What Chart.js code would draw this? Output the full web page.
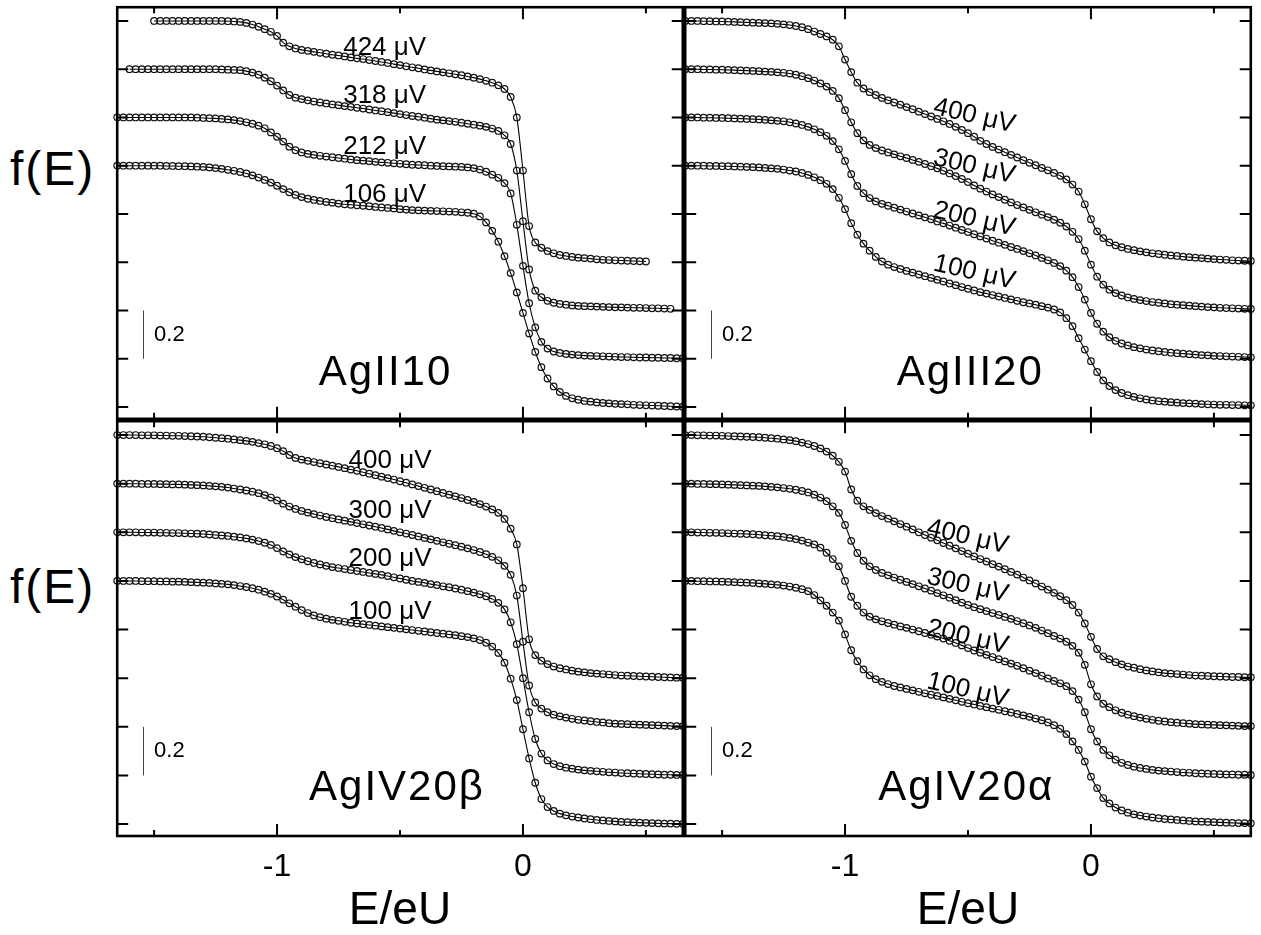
<!DOCTYPE html>
<html>
<head>
<meta charset="utf-8">
<script src="https://cdn.jsdelivr.net/npm/chart.js@4.4.1/dist/chart.umd.min.js"></script>
<style>
  html, body { margin: 0; padding: 0; background: #fff; }
  #wrap { position: relative; width: 1261px; height: 935px; background: #fff; overflow: hidden;
          font-family: 'Liberation Sans', Arial, sans-serif; }
  canvas { position: absolute; }
  .ylab { position: absolute; font-size: 48px; line-height: 48px; color: #000; letter-spacing: 2px; }
</style>
</head>
<body>
<div id="wrap">
  <canvas id="cTL" width="576" height="422" style="left:112px;top:2px"></canvas>
  <canvas id="cTR" width="576" height="422" style="left:680px;top:2px"></canvas>
  <canvas id="cBL" width="576" height="523" style="left:112px;top:416px"></canvas>
  <canvas id="cBR" width="576" height="523" style="left:680px;top:416px"></canvas>
  <div class="ylab" style="left:10px;top:145px">f(E)</div>
  <div class="ylab" style="left:10px;top:563px">f(E)</div>
</div>
<script>
// ---------------------------------------------------------------
// DATA  (E/eU grid and f(E), curves are stacked by 0.2)
// ---------------------------------------------------------------
const energy = [-1.65,-1.625,-1.6,-1.575,-1.55,-1.525,-1.5,-1.475,-1.45,-1.425,
  -1.4,-1.375,-1.35,-1.325,-1.3,-1.275,-1.25,-1.225,-1.2,-1.175,
  -1.15,-1.125,-1.1,-1.075,-1.05,-1.025,-1,-0.975,-0.95,-0.925,
  -0.9,-0.875,-0.85,-0.825,-0.8,-0.775,-0.75,-0.725,-0.7,-0.675,
  -0.65,-0.625,-0.6,-0.575,-0.55,-0.525,-0.5,-0.475,-0.45,-0.425,
  -0.4,-0.375,-0.35,-0.325,-0.3,-0.275,-0.25,-0.225,-0.2,-0.175,
  -0.15,-0.125,-0.1,-0.075,-0.05,-0.025,0,0.025,0.05,0.075,
  0.1,0.125,0.15,0.175,0.2,0.225,0.25,0.275,0.3,0.325,
  0.35,0.375,0.4,0.425,0.45,0.475,0.5,0.525,0.55,0.575,
  0.6,0.625,0.65];

const offsets = [0, 0.2, 0.4, 0.6];

// AgII10
const agII10_106 = [1,1,1,1,1,1,1,1,0.999,0.999,
  0.998,0.998,0.997,0.996,0.995,0.993,0.99,0.987,0.983,0.979,
  0.974,0.968,0.96,0.951,0.941,0.93,0.917,0.903,0.89,0.879,
  0.87,0.863,0.858,0.854,0.85,0.847,0.843,0.84,0.838,0.836,
  0.834,0.832,0.829,0.827,0.825,0.823,0.82,0.818,0.816,0.815,
  0.814,0.813,0.812,0.811,0.81,0.809,0.807,0.805,0.801,0.79,
  0.765,0.73,0.685,0.625,0.555,0.475,0.39,0.305,0.228,0.165,
  0.118,0.085,0.062,0.046,0.036,0.03,0.025,0.022,0.019,0.017,
  0.015,0.013,0.012,0.011,0.009,0.008,0.007,0.006,0.005,0.004,
  0.003,0.002,0.001];
const agII10_212 = [1,1,1,1,1,1,1,1,1,1,
  1,1,1,0.999,0.998,0.997,0.996,0.994,0.992,0.989,
  0.985,0.98,0.974,0.966,0.955,0.938,0.92,0.9,0.879,0.864,
  0.855,0.849,0.845,0.841,0.838,0.835,0.832,0.829,0.826,0.823,
  0.821,0.819,0.816,0.814,0.812,0.81,0.808,0.806,0.804,0.803,
  0.802,0.8,0.799,0.798,0.797,0.796,0.795,0.793,0.79,0.784,
  0.775,0.763,0.75,0.728,0.685,0.555,0.385,0.23,0.13,0.07,
  0.042,0.03,0.024,0.02,0.017,0.015,0.013,0.012,0.011,0.01,
  0.009,0.008,0.007,0.007,0.006,0.005,0.005,0.004,0.004,0.003,
  0.003,0.002,0.002];
const agII10_318 = [null,null,1,1,1,1,1,1,1,1,
  1,1,1,1,1,1,1,0.999,0.998,0.997,
  0.996,0.992,0.986,0.977,0.965,0.95,0.932,0.912,0.893,0.882,
  0.876,0.871,0.866,0.862,0.858,0.854,0.851,0.847,0.844,0.84,
  0.837,0.833,0.829,0.826,0.822,0.818,0.814,0.81,0.806,0.803,
  0.799,0.795,0.791,0.788,0.785,0.782,0.778,0.774,0.77,0.766,
  0.761,0.754,0.744,0.726,0.69,0.58,0.37,0.17,0.082,0.055,
  0.04,0.032,0.027,0.024,0.021,0.019,0.018,0.017,0.016,0.015,
  0.014,0.013,0.013,0.012,0.011,0.011,0.01,0.009,0.009,0.008,
  0.007,null,null];
const agII10_424 = [null,null,null,null,null,null,1,1,1,1,
  1,1,1,1,1,1,1,1,0.999,0.998,
  0.996,0.992,0.985,0.976,0.966,0.955,0.938,0.91,0.895,0.886,
  0.88,0.876,0.872,0.868,0.864,0.86,0.857,0.853,0.849,0.845,
  0.842,0.838,0.834,0.83,0.826,0.821,0.817,0.812,0.808,0.804,
  0.799,0.795,0.791,0.787,0.783,0.779,0.775,0.77,0.765,0.759,
  0.752,0.744,0.733,0.718,0.685,0.6,0.38,0.15,0.082,0.06,
  0.046,0.037,0.03,0.026,0.022,0.019,0.017,0.015,0.012,0.01,
  0.009,0.008,0.007,0.006,0.005,0.004,0.003,null,null,null,
  null,null,null];

// AgIII20
const agIII20_100 = [1,1,1,1,0.999,0.999,0.998,0.998,0.997,0.996,
  0.995,0.994,0.993,0.991,0.989,0.987,0.984,0.98,0.976,0.97,
  0.962,0.952,0.94,0.925,0.903,0.867,0.82,0.762,0.714,0.677,
  0.648,0.622,0.603,0.59,0.58,0.572,0.564,0.557,0.549,0.542,
  0.535,0.527,0.52,0.512,0.505,0.497,0.49,0.483,0.476,0.47,
  0.464,0.458,0.452,0.446,0.44,0.434,0.429,0.424,0.418,0.412,
  0.404,0.392,0.368,0.335,0.285,0.238,0.19,0.145,0.11,0.087,
  0.07,0.058,0.049,0.042,0.036,0.031,0.027,0.024,0.022,0.02,
  0.018,0.016,0.015,0.014,0.012,0.011,0.01,0.009,0.009,0.008,
  0.008,0.007,0.007];
const agIII20_200 = [1,1,1,0.999,0.999,0.998,0.998,0.997,0.996,0.995,
  0.994,0.993,0.992,0.99,0.988,0.986,0.984,0.98,0.975,0.969,
  0.961,0.951,0.939,0.924,0.902,0.868,0.82,0.765,0.716,0.686,
  0.666,0.652,0.642,0.634,0.626,0.618,0.61,0.602,0.594,0.586,
  0.578,0.569,0.561,0.552,0.543,0.534,0.525,0.516,0.507,0.498,
  0.489,0.481,0.472,0.463,0.455,0.446,0.437,0.428,0.418,0.408,
  0.397,0.384,0.365,0.338,0.297,0.245,0.19,0.145,0.112,0.089,
  0.074,0.063,0.055,0.048,0.043,0.038,0.034,0.031,0.028,0.025,
  0.023,0.021,0.019,0.017,0.015,0.014,0.012,0.011,0.01,0.009,
  0.008,0.007,0.006];
const agIII20_300 = [1,1,1,0.999,0.999,0.998,0.998,0.997,0.996,0.995,
  0.994,0.993,0.992,0.99,0.989,0.987,0.985,0.982,0.977,0.971,
  0.963,0.953,0.941,0.928,0.91,0.88,0.83,0.78,0.735,0.705,
  0.686,0.673,0.663,0.655,0.647,0.639,0.632,0.624,0.616,0.607,
  0.598,0.589,0.579,0.568,0.557,0.545,0.532,0.518,0.505,0.493,
  0.481,0.47,0.459,0.448,0.437,0.427,0.417,0.407,0.397,0.387,
  0.376,0.364,0.348,0.326,0.296,0.248,0.19,0.14,0.107,0.086,
  0.072,0.062,0.054,0.048,0.043,0.039,0.035,0.032,0.029,0.026,
  0.024,0.022,0.02,0.018,0.016,0.014,0.013,0.011,0.01,0.009,
  0.008,0.007,0.006];
const agIII20_400 = [1,1,1,0.999,0.999,0.998,0.998,0.997,0.996,0.995,
  0.994,0.993,0.992,0.991,0.99,0.988,0.986,0.983,0.979,0.974,
  0.966,0.956,0.946,0.936,0.922,0.895,0.84,0.788,0.744,0.72,
  0.705,0.693,0.681,0.671,0.662,0.653,0.643,0.634,0.624,0.614,
  0.604,0.594,0.584,0.573,0.561,0.548,0.535,0.52,0.503,0.49,
  0.478,0.467,0.456,0.445,0.434,0.423,0.412,0.402,0.391,0.381,
  0.37,0.358,0.343,0.322,0.293,0.24,0.178,0.128,0.1,0.082,
  0.07,0.062,0.055,0.05,0.045,0.041,0.037,0.034,0.031,0.028,
  0.026,0.023,0.021,0.019,0.017,0.015,0.013,0.011,0.01,0.008,
  0.007,0.006,0.005];

// AgIV20 beta
const agIV20b_100 = [1,1,1,1,0.999,0.999,0.999,0.998,0.998,0.997,
  0.997,0.996,0.995,0.994,0.993,0.992,0.99,0.988,0.986,0.983,
  0.979,0.975,0.97,0.964,0.956,0.947,0.936,0.923,0.908,0.894,
  0.88,0.868,0.858,0.851,0.845,0.84,0.836,0.832,0.828,0.825,
  0.822,0.819,0.816,0.813,0.81,0.807,0.804,0.801,0.798,0.795,
  0.792,0.789,0.786,0.783,0.78,0.777,0.773,0.769,0.764,0.757,
  0.746,0.73,0.704,0.664,0.598,0.51,0.39,0.27,0.17,0.103,
  0.07,0.054,0.043,0.036,0.031,0.027,0.023,0.02,0.017,0.015,
  0.013,0.011,0.009,0.008,0.007,0.006,0.005,0.004,0.003,0.002,
  0.002,0.001,0.001];
const agIV20b_200 = [1,1,1,1,0.999,0.999,0.999,0.998,0.998,0.997,
  0.997,0.996,0.995,0.994,0.993,0.991,0.989,0.987,0.985,0.982,
  0.979,0.975,0.97,0.964,0.957,0.948,0.935,0.921,0.909,0.898,
  0.889,0.881,0.874,0.868,0.862,0.857,0.853,0.849,0.845,0.841,
  0.837,0.833,0.829,0.825,0.82,0.815,0.81,0.805,0.8,0.796,
  0.792,0.787,0.783,0.778,0.774,0.769,0.764,0.758,0.752,0.745,
  0.737,0.726,0.71,0.683,0.63,0.54,0.4,0.26,0.15,0.09,
  0.062,0.047,0.038,0.032,0.028,0.024,0.021,0.019,0.017,0.015,
  0.013,0.012,0.01,0.009,0.008,0.007,0.006,0.005,0.004,0.003,
  0.003,0.002,0.002];
const agIV20b_300 = [1,1,1,1,0.999,0.999,0.999,0.998,0.998,0.997,
  0.997,0.996,0.995,0.994,0.993,0.991,0.989,0.987,0.984,0.98,
  0.976,0.972,0.967,0.961,0.953,0.943,0.931,0.918,0.906,0.896,
  0.888,0.881,0.875,0.869,0.863,0.858,0.853,0.848,0.843,0.838,
  0.833,0.828,0.823,0.818,0.812,0.806,0.8,0.795,0.789,0.783,
  0.777,0.771,0.765,0.759,0.753,0.747,0.741,0.734,0.727,0.719,
  0.71,0.699,0.685,0.662,0.625,0.54,0.35,0.17,0.1,0.075,
  0.06,0.05,0.043,0.038,0.033,0.029,0.026,0.023,0.02,0.018,
  0.015,0.013,0.012,0.011,0.01,0.009,0.008,0.007,0.006,0.005,
  0.004,0.003,0.003];
const agIV20b_400 = [1,1,1,1,0.999,0.999,0.999,0.998,0.998,0.997,
  0.997,0.996,0.995,0.994,0.993,0.991,0.989,0.987,0.985,0.982,
  0.979,0.976,0.972,0.967,0.962,0.955,0.946,0.934,0.918,0.906,
  0.899,0.894,0.889,0.884,0.879,0.874,0.869,0.864,0.858,0.853,
  0.847,0.841,0.835,0.829,0.823,0.817,0.81,0.804,0.797,0.79,
  0.783,0.776,0.769,0.762,0.755,0.748,0.741,0.733,0.725,0.716,
  0.706,0.694,0.68,0.655,0.615,0.55,0.37,0.16,0.095,0.072,
  0.058,0.048,0.041,0.036,0.031,0.027,0.024,0.021,0.019,0.017,
  0.015,0.013,0.011,0.01,0.009,0.008,0.007,0.006,0.005,0.004,
  0.003,0.002,0.002];

// AgIV20 alpha
const agIV20a_100 = [1,1,0.999,0.999,0.998,0.998,0.997,0.996,0.995,0.994,
  0.993,0.992,0.99,0.988,0.986,0.984,0.981,0.977,0.972,0.966,
  0.958,0.942,0.92,0.898,0.87,0.837,0.78,0.715,0.67,0.636,
  0.612,0.596,0.585,0.576,0.568,0.562,0.556,0.55,0.544,0.538,
  0.532,0.527,0.521,0.515,0.509,0.503,0.497,0.492,0.486,0.481,
  0.475,0.47,0.464,0.459,0.453,0.447,0.441,0.434,0.427,0.418,
  0.407,0.392,0.37,0.34,0.305,0.257,0.195,0.148,0.107,0.085,
  0.068,0.056,0.047,0.04,0.035,0.031,0.027,0.024,0.021,0.019,
  0.017,0.015,0.013,0.011,0.01,0.009,0.008,0.007,0.006,0.005,
  0.004,0.004,0.003];
const agIV20a_200 = [1,1,0.999,0.999,0.998,0.998,0.997,0.996,0.995,0.994,
  0.993,0.992,0.99,0.988,0.986,0.984,0.981,0.977,0.972,0.966,
  0.958,0.95,0.937,0.916,0.89,0.86,0.8,0.735,0.698,0.67,
  0.653,0.642,0.634,0.627,0.62,0.613,0.607,0.6,0.593,0.586,
  0.579,0.571,0.563,0.554,0.545,0.535,0.524,0.514,0.505,0.496,
  0.487,0.478,0.469,0.46,0.451,0.441,0.431,0.421,0.41,0.399,
  0.389,0.379,0.367,0.347,0.312,0.26,0.19,0.14,0.105,0.083,
  0.065,0.052,0.043,0.036,0.031,0.027,0.023,0.02,0.018,0.016,
  0.014,0.012,0.011,0.009,0.008,0.007,0.006,0.005,0.004,0.004,
  0.003,0.003,0.002];
const agIV20a_300 = [1,1,0.999,0.999,0.998,0.998,0.997,0.996,0.995,0.994,
  0.993,0.992,0.991,0.989,0.987,0.985,0.982,0.979,0.975,0.97,
  0.964,0.955,0.943,0.928,0.907,0.88,0.83,0.765,0.715,0.683,
  0.66,0.645,0.633,0.623,0.614,0.605,0.596,0.587,0.578,0.569,
  0.56,0.55,0.541,0.531,0.521,0.511,0.501,0.492,0.484,0.476,
  0.468,0.46,0.452,0.444,0.435,0.426,0.417,0.407,0.396,0.385,
  0.374,0.363,0.35,0.333,0.305,0.255,0.175,0.125,0.095,0.081,
  0.068,0.058,0.05,0.044,0.038,0.033,0.029,0.025,0.022,0.019,
  0.017,0.015,0.013,0.011,0.01,0.009,0.008,0.007,0.006,0.005,
  0.004,0.003,0.003];
const agIV20a_400 = [1,1,0.999,0.999,0.998,0.998,0.997,0.996,0.995,0.994,
  0.993,0.992,0.991,0.989,0.987,0.985,0.982,0.979,0.975,0.969,
  0.963,0.955,0.945,0.932,0.915,0.89,0.85,0.776,0.73,0.707,
  0.692,0.679,0.667,0.656,0.645,0.634,0.623,0.612,0.6,0.589,
  0.578,0.567,0.556,0.545,0.534,0.523,0.512,0.501,0.49,0.48,
  0.469,0.459,0.448,0.437,0.426,0.414,0.402,0.39,0.377,0.364,
  0.351,0.337,0.321,0.301,0.27,0.225,0.17,0.12,0.09,0.078,
  0.066,0.057,0.048,0.043,0.037,0.032,0.028,0.024,0.021,0.019,
  0.017,0.015,0.013,0.011,0.01,0.009,0.008,0.007,0.006,0.005,
  0.005,0.004,0.004];

const labelsII10 = ['106 μV', '212 μV', '318 μV', '424 μV'];
const labelsIII20 = ['100 μV', '200 μV', '300 μV', '400 μV'];
const labelsIV20 = ['100 μV', '200 μV', '300 μV', '400 μV'];

const xMajor = [-1, 0];
const xMinor = [-1.5, -0.5, 0.5];
const yTicks = [0, 0.2, 0.4, 0.6, 0.8, 1.0, 1.2, 1.4, 1.6];

// ---------------------------------------------------------------
// GLOBAL DEFAULTS
// ---------------------------------------------------------------
const FONT = "'Liberation Sans', Arial, sans-serif";
Chart.defaults.font.family = FONT;
Chart.defaults.color = '#000';
Chart.defaults.animation = false;

// frame + inward ticks, like the original plot
const framePlugin = {
    id: 'frame',
    afterDatasetsDraw(chart) {
        const {ctx, chartArea: a, scales: {x, y}} = chart;
        ctx.save();
        ctx.strokeStyle = '#000';
        ctx.lineWidth = 2;
        ctx.beginPath();
        xMajor.forEach(function (v) {
            const px = x.getPixelForValue(v);
            ctx.moveTo(px, a.bottom); ctx.lineTo(px, a.bottom - 12);
            ctx.moveTo(px, a.top); ctx.lineTo(px, a.top + 12);
        });
        xMinor.forEach(function (v) {
            const px = x.getPixelForValue(v);
            ctx.moveTo(px, a.bottom); ctx.lineTo(px, a.bottom - 6);
            ctx.moveTo(px, a.top); ctx.lineTo(px, a.top + 6);
        });
        yTicks.forEach(function (v) {
            const py = y.getPixelForValue(v);
            ctx.moveTo(a.left, py); ctx.lineTo(a.left + 11, py);
            ctx.moveTo(a.right, py); ctx.lineTo(a.right - 11, py);
        });
        ctx.stroke();
        ctx.lineWidth = 2.6;
        ctx.strokeRect(a.left, a.top, a.right - a.left, a.bottom - a.top);
        ctx.restore();
    }
};

// panel name, curve labels and the 0.2 scale bar
const textPlugin = {
    id: 'panelText',
    afterDraw(chart, args, o) {
        const {ctx, scales: {x, y}} = chart;
        ctx.save();
        ctx.fillStyle = '#000';
        ctx.textBaseline = 'alphabetic';

        ctx.font = '42px ' + FONT;
        ctx.letterSpacing = '2px';
        ctx.fillText(o.name, x.getPixelForValue(o.nameAt[0]), y.getPixelForValue(o.nameAt[1]));
        ctx.letterSpacing = '0px';

        ctx.font = o.labelSize + 'px ' + FONT;
        o.curveLabels.forEach(function (t, i) {
            ctx.save();
            ctx.translate(x.getPixelForValue(o.labelAt[i][0]), y.getPixelForValue(o.labelAt[i][1]));
            ctx.rotate(o.tilt * Math.PI / 180);
            ctx.fillText(t, 0, 0);
            ctx.restore();
        });

        // scale bar 0.2
        ctx.strokeStyle = '#444';
        ctx.lineWidth = 1;
        const bx = Math.round(x.getPixelForValue(-1.545)) + 0.5;
        ctx.beginPath();
        ctx.moveTo(bx, y.getPixelForValue(0.2));
        ctx.lineTo(bx, y.getPixelForValue(0.4));
        ctx.stroke();
        ctx.font = '22px ' + FONT;
        ctx.textBaseline = 'middle';
        ctx.fillText('0.2', x.getPixelForValue(-1.5), y.getPixelForValue(0.3));
        ctx.restore();
    }
};

function series(base, off) {
    const pts = [];
    energy.forEach(function (e, i) {
        if (base[i] !== null) pts.push({x: e, y: base[i] + off});
    });
    return pts;
}

function makePanel(id, curves, text, withAxis) {
    const datasets = curves.map(function (c, i) {
        return {
            data: series(c, offsets[i]),
            showLine: true,
            borderColor: '#000',
            borderWidth: 1.1,
            cubicInterpolationMode: 'monotone',
            pointStyle: 'circle',
            pointRadius: 3.3,
            pointBorderWidth: 1.2,
            pointBorderColor: '#111',
            pointBackgroundColor: 'rgba(0,0,0,0)',
            clip: false
        };
    });
    const xScale = {
        type: 'linear', min: -1.65, max: 0.65, display: false
    };
    if (withAxis) {
        Object.assign(xScale, {
            display: true,
            grid: {display: false, drawTicks: false},
            border: {display: false},
            afterBuildTicks: function (s) { s.ticks = xMajor.map(function (v) { return {value: v}; }); },
            afterFit: function (s) { s.height = 103; },
            ticks: {
                autoSkip: false, maxRotation: 0, padding: 12,
                font: {size: 32}, color: '#000',
                callback: function (v) { return String(v); }
            },
            title: {display: true, text: 'E/eU', font: {size: 46}, color: '#000', padding: 0}
        });
    }
    new Chart(document.getElementById(id), {
        type: 'scatter',
        data: {datasets: datasets},
        options: {
            responsive: false,
            events: [],
            layout: {padding: withAxis ? {left: 4, right: 4, top: 4, bottom: 0} : 4},
            scales: {
                x: xScale,
                y: {type: 'linear', min: -0.049, max: 1.657, display: false}
            },
            plugins: {
                legend: {display: false},
                tooltip: {enabled: false},
                panelText: text
            }
        },
        plugins: [framePlugin, textPlugin]
    });
}

// =====================================================
// FOUR PANELS
// =====================================================
makePanel('cTL', [agII10_106, agII10_212, agII10_318, agII10_424], {
    name: 'AgII10', nameAt: [-0.83, 0.09],
    curveLabels: labelsII10, tilt: 0, labelSize: 26,
    labelAt: [[-0.731, 0.848], [-0.731, 1.048], [-0.731, 1.258], [-0.731, 1.46]]
}, false);

makePanel('cTR', [agIII20_100, agIII20_200, agIII20_300, agIII20_400], {
    name: 'AgIII20', nameAt: [-0.79, 0.09],
    curveLabels: labelsIII20, tilt: 13, labelSize: 26,
    labelAt: [[-0.645, 0.567], [-0.645, 0.787], [-0.645, 1.005], [-0.645, 1.215]]
}, false);

makePanel('cBL', [agIV20b_100, agIV20b_200, agIV20b_300, agIV20b_400], {
    name: 'AgIV20β', nameAt: [-0.87, 0.1],
    curveLabels: labelsIV20, tilt: 0, labelSize: 26,
    labelAt: [[-0.709, 0.845], [-0.709, 1.06], [-0.709, 1.26], [-0.709, 1.465]]
}, true);

makePanel('cBR', [agIV20a_100, agIV20a_200, agIV20a_300, agIV20a_400], {
    name: 'AgIV20α', nameAt: [-0.865, 0.1],
    curveLabels: labelsIV20, tilt: 13, labelSize: 26,
    labelAt: [[-0.672, 0.56], [-0.672, 0.778], [-0.672, 0.99], [-0.672, 1.19]]
}, true);
</script>
</body>
</html>
